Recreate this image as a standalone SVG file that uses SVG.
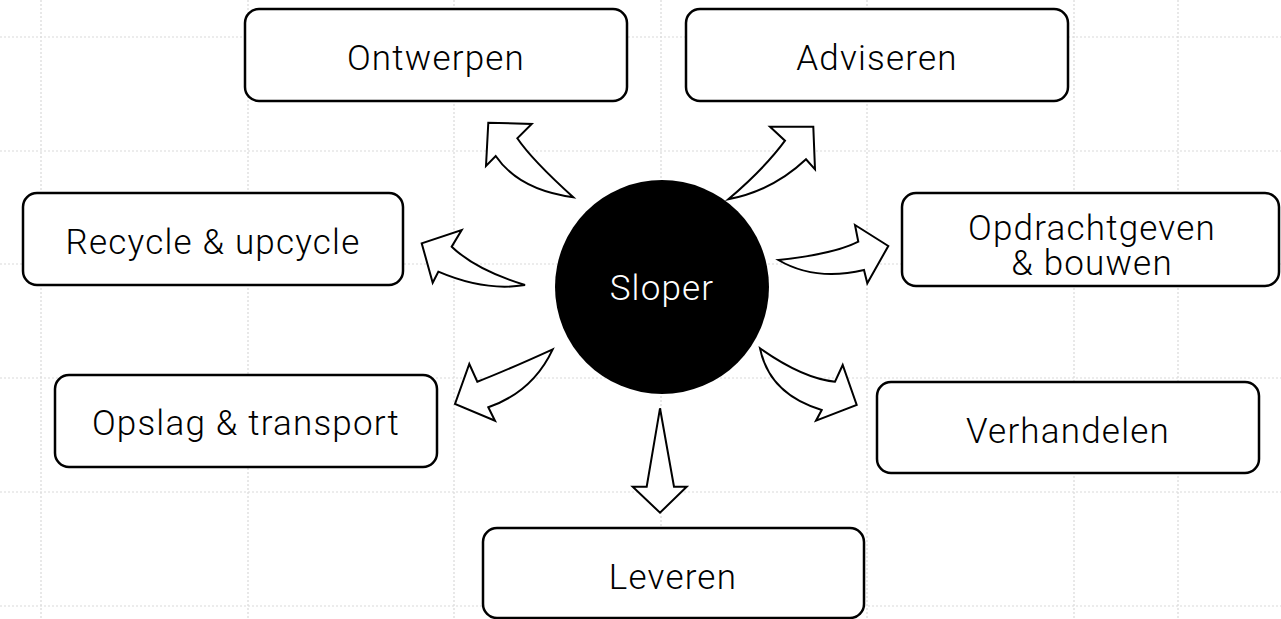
<svg xmlns="http://www.w3.org/2000/svg" width="1281" height="619" viewBox="0 0 1281 619">
<defs>
<style>
.grid line{stroke:#d9d9d9;stroke-width:1.2;stroke-dasharray:2 2}
.box{fill:#fff;stroke:#000;stroke-width:2.5}
.lbl{font-family:Roboto,"Liberation Sans",sans-serif;font-size:35px;font-weight:300;fill:#000;text-anchor:middle;letter-spacing:1.2px}
.arr{fill:#fff;stroke:#000;stroke-width:2;stroke-linejoin:miter}
</style>
</defs>
<rect width="1281" height="619" fill="#fff"/>
<g class="grid">
<line x1="41" y1="0" x2="41" y2="619"/>
<line x1="248" y1="0" x2="248" y2="619"/>
<line x1="454" y1="0" x2="454" y2="619"/>
<line x1="661" y1="0" x2="661" y2="619"/>
<line x1="867" y1="0" x2="867" y2="619"/>
<line x1="1074" y1="0" x2="1074" y2="619"/>
<line x1="1178" y1="0" x2="1178" y2="619"/>
<line x1="0" y1="37" x2="1281" y2="37"/>
<line x1="0" y1="151" x2="1281" y2="151"/>
<line x1="0" y1="264" x2="1281" y2="264"/>
<line x1="0" y1="378" x2="1281" y2="378"/>
<line x1="0" y1="492" x2="1281" y2="492"/>
<line x1="0" y1="606" x2="1281" y2="606"/>
</g>
<g id="connectors">
<path class="arr" d="M573.3,197.3 Q518.9,190 495.7,156 L486,166 L488.3,122.7 L531.7,124 L517.3,138.3 Q532,160 573.3,197.3 Z"/>
<path class="arr" d="M728.3,199.3 Q765,168 785,140.7 L770,126.7 L813.3,126.7 L815,169.3 L806,159.3 Q772.8,190.7 728.3,199.3 Z"/>
<path class="arr" d="M525,285 Q476,270 451.7,246.7 L461.7,230 L421.7,243.3 L432.7,282.7 L438.3,271.7 Q485,291.7 525,285 Z"/>
<path class="arr" d="M778.3,260 Q835,254 858.3,241.7 L855,225 L888.3,246 L867.3,283.3 L864,270 Q815.5,281.7 778.3,260 Z"/>
<path class="arr" d="M552.7,349.3 Q505,371 477.3,381.7 L469.3,364 L455,404 L495,420.7 L488.3,407.3 Q532.8,391.7 552.7,349.3 Z"/>
<path class="arr" d="M760,348.3 Q802.5,378.3 835,381.7 L842.7,365 L856.7,405 L816,420.7 L821.7,410 Q769.2,394.2 760,348.3 Z"/>
<path class="arr" d="M660,408.3 L674,486.7 L686.7,486.7 L660,512.7 L632.7,486.7 L646.7,486.7 Z"/>
</g>
<g id="ontwerpen">
<rect class="box" x="245" y="9" width="382" height="92" rx="14"/>
<text class="lbl" x="436" y="70">Ontwerpen</text>
</g>
<g id="adviseren">
<rect class="box" x="686" y="9" width="382" height="92" rx="14"/>
<text class="lbl" x="877" y="70">Adviseren</text>
</g>
<g id="recycle">
<rect class="box" x="23" y="193" width="380" height="92" rx="14"/>
<text class="lbl" x="213" y="254">Recycle &amp; upcycle</text>
</g>
<g id="opdrachtgeven">
<rect class="box" x="902" y="193" width="377" height="93" rx="14"/>
<text class="lbl"><tspan x="1092" y="240">Opdrachtgeven</tspan><tspan x="1092" y="275">&amp; bouwen</tspan></text>
</g>
<g id="opslag">
<rect class="box" x="55" y="375" width="382" height="92" rx="14"/>
<text class="lbl" x="246" y="435">Opslag &amp; transport</text>
</g>
<g id="verhandelen">
<rect class="box" x="877" y="382" width="382" height="91" rx="14"/>
<text class="lbl" x="1068" y="443">Verhandelen</text>
</g>
<g id="leveren">
<rect class="box" x="483" y="528" width="381" height="90" rx="14"/>
<text class="lbl" x="673" y="589">Leveren</text>
</g>
<g id="sloper">
<circle cx="662" cy="287" r="107" fill="#000"/>
<text class="lbl" x="662" y="300" style="fill:#fff">Sloper</text>
</g>
</svg>
